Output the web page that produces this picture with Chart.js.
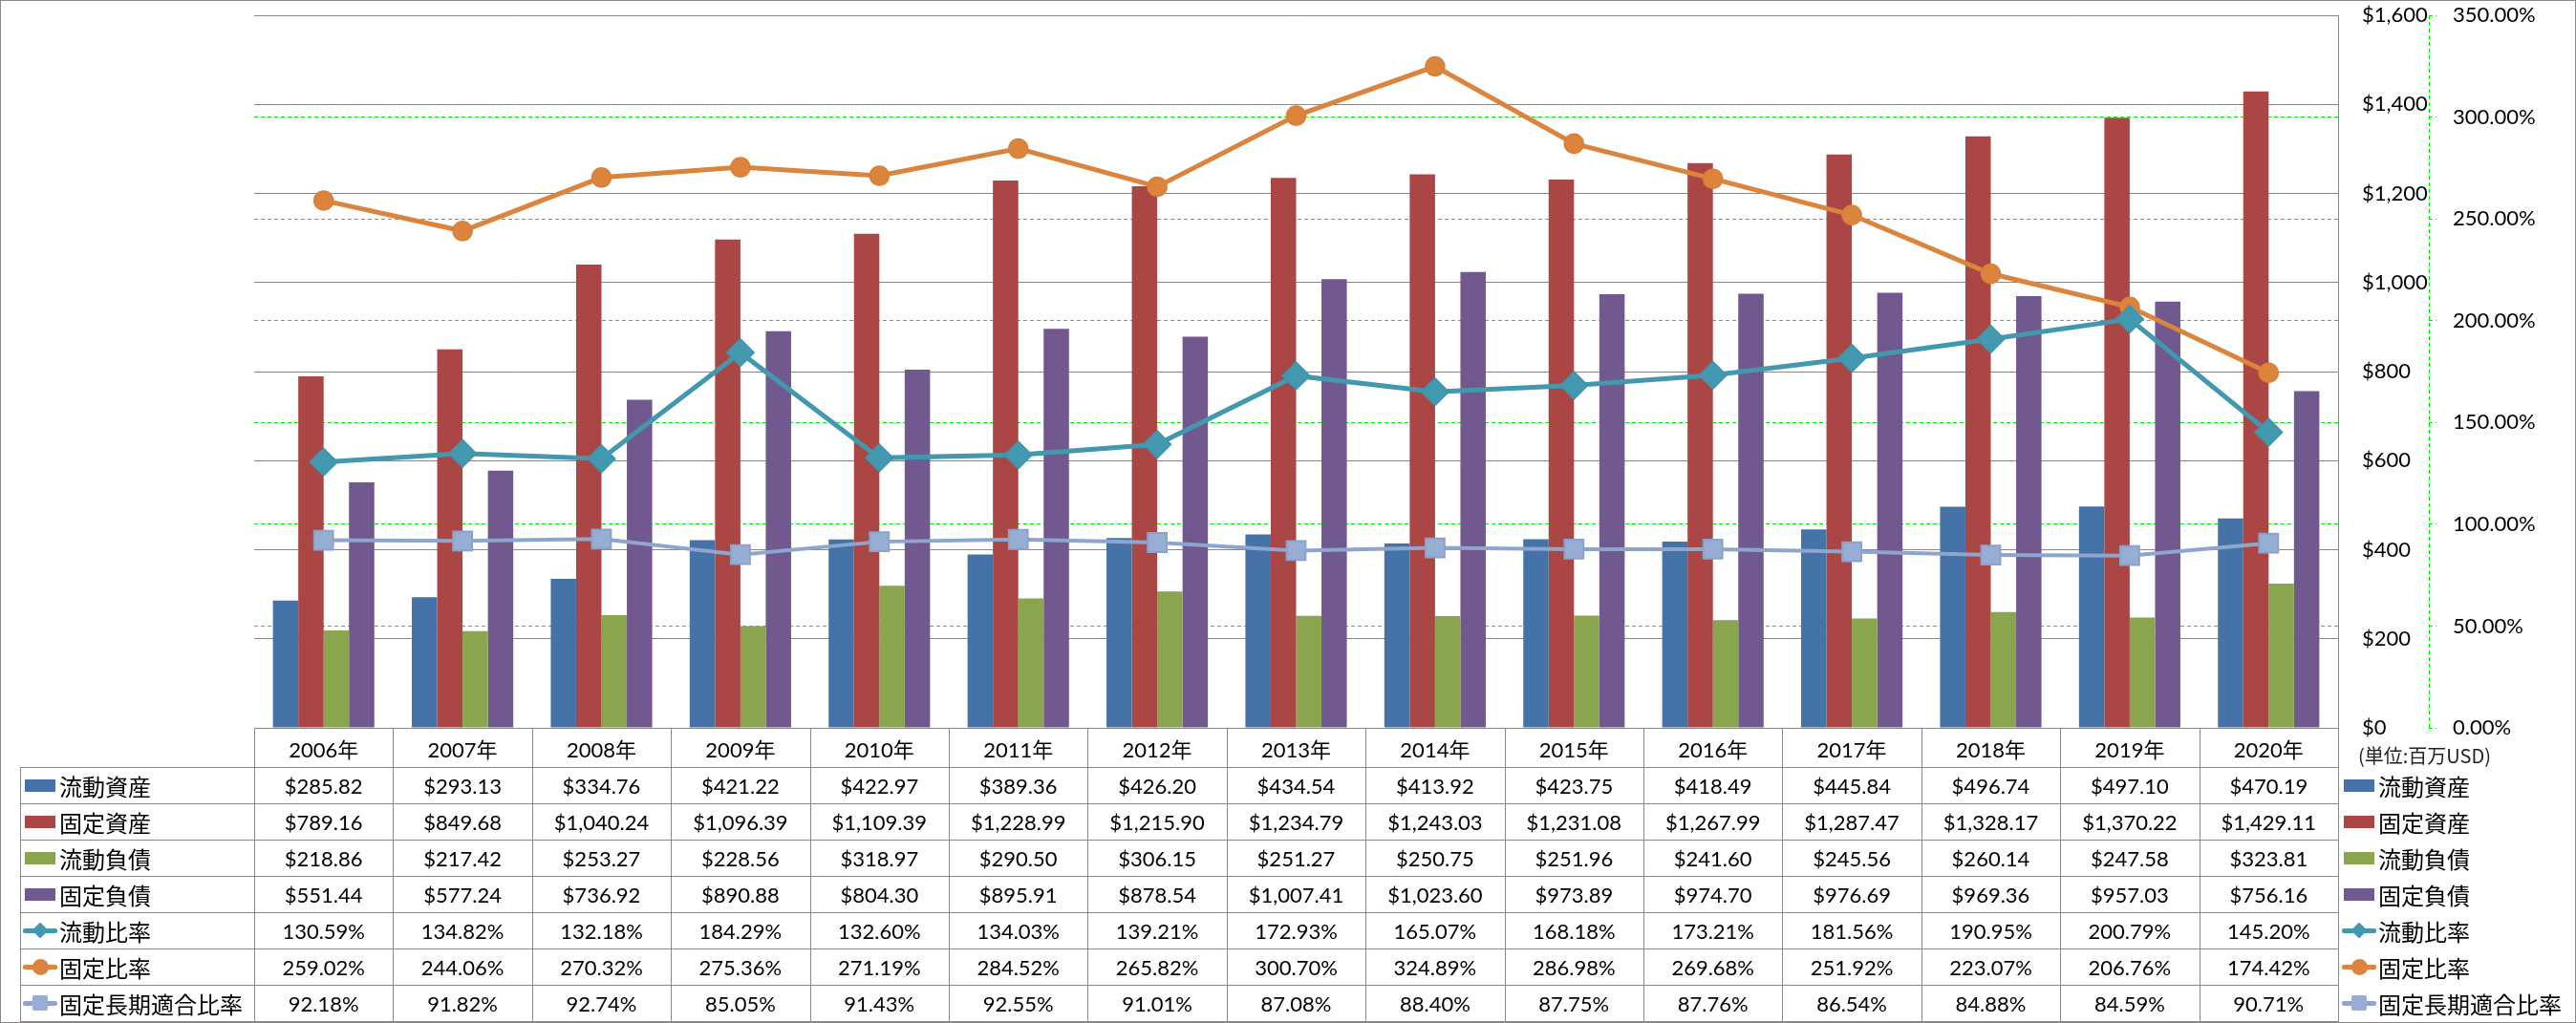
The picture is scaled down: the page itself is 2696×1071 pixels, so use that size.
<!DOCTYPE html>
<html>
<head>
<meta charset="utf-8">
<script src="https://cdn.jsdelivr.net/npm/chart.js@4.4.1/dist/chart.umd.min.js"></script>
<style>
  html, body { margin: 0; padding: 0; background: #fff; }
  #wrap { position: relative; width: 2696px; height: 1071px; overflow: hidden; background: #fff; }
  #c { position: absolute; left: 0; top: 0; }
  .ln { position: absolute; background: #888888; }
  .cell { position: absolute; display: flex; align-items: center; justify-content: center;
          font-family: Lato, 'Noto Sans CJK JP', sans-serif; font-size: 22px; color: #000; white-space: nowrap; }
  .lab { position: absolute; display: flex; align-items: center; white-space: nowrap;
         font-family: 'Noto Sans CJK JP', sans-serif; font-size: 24px; color: #000; }
  .sw { position: absolute; }
  #frame { position: absolute; left: 0; top: 0; width: 2696px; height: 1071px; box-sizing: border-box;
           border: 1px solid #888888; pointer-events: none; }
  #unit { position: absolute; font-family: 'Noto Sans CJK JP', sans-serif; font-size: 20px; color: #222; white-space: nowrap; }
</style>
</head>
<body>
<div id="wrap">
  <canvas id="c" width="2696" height="1071"></canvas>
  <div id="tbl"></div>
  <div id="unit">(単位:百万USD)</div>
  <div id="frame"></div>
</div>
<script>
// ---------------- data ----------------
const categories = ['2006年','2007年','2008年','2009年','2010年','2011年','2012年','2013年','2014年','2015年','2016年','2017年','2018年','2019年','2020年'];
const seriesNames = ['流動資産','固定資産','流動負債','固定負債','流動比率','固定比率','固定長期適合比率'];
const currentAssets  = [285.82, 293.13, 334.76, 421.22, 422.97, 389.36, 426.20, 434.54, 413.92, 423.75, 418.49, 445.84, 496.74, 497.10, 470.19];
const fixedAssets    = [789.16, 849.68, 1040.24, 1096.39, 1109.39, 1228.99, 1215.90, 1234.79, 1243.03, 1231.08, 1267.99, 1287.47, 1328.17, 1370.22, 1429.11];
const currentLiab    = [218.86, 217.42, 253.27, 228.56, 318.97, 290.50, 306.15, 251.27, 250.75, 251.96, 241.60, 245.56, 260.14, 247.58, 323.81];
const fixedLiab      = [551.44, 577.24, 736.92, 890.88, 804.30, 895.91, 878.54, 1007.41, 1023.60, 973.89, 974.70, 976.69, 969.36, 957.03, 756.16];
const currentRatio   = [130.59, 134.82, 132.18, 184.29, 132.60, 134.03, 139.21, 172.93, 165.07, 168.18, 173.21, 181.56, 190.95, 200.79, 145.20];
const fixedRatio     = [259.02, 244.06, 270.32, 275.36, 271.19, 284.52, 265.82, 300.70, 324.89, 286.98, 269.68, 251.92, 223.07, 206.76, 174.42];
const fixedLongRatio = [92.18, 91.82, 92.74, 85.05, 91.43, 92.55, 91.01, 87.08, 88.40, 87.75, 87.76, 86.54, 84.88, 84.59, 90.71];
const usdTicks = [0, 200, 400, 600, 800, 1000, 1200, 1400, 1600];
const pctTicks = [0, 50, 100, 150, 200, 250, 300, 350];
const unitLabel = '(単位:百万USD)';

// ---------------- styles ----------------
const colors = ['#4572A7', '#AA4643', '#89A54E', '#71588F', '#4198AF', '#DB843D', '#93A9CF'];
const tickFont = { family: "Lato, 'Noto Sans CJK JP', sans-serif", size: 22 };

const fmtUsd = v => '$' + v.toLocaleString('en-US', { minimumFractionDigits: 2, maximumFractionDigits: 2 });
const fmtPct = v => v.toFixed(2) + '%';

const y2AxisLine = {
  id: 'y2AxisLine',
  beforeDatasetsDraw(chart) {
    const s = chart.scales.y2, a = chart.chartArea, c = chart.ctx;
    c.save();
    c.strokeStyle = '#00ee00';
    c.lineWidth = 1;
    c.setLineDash([4, 3]);
    const x = Math.round(s.left) + 0.5;
    c.beginPath(); c.moveTo(x, a.top); c.lineTo(x, a.bottom); c.stroke();
    c.restore();
  }
};

const barDs = (label, data, color) => ({
  type: 'bar', label, data, backgroundColor: color, borderWidth: 0,
  yAxisID: 'y', order: 10, categoryPercentage: 0.73, barPercentage: 1.0
});

const chart = new Chart(document.getElementById('c'), {
  data: {
    labels: categories,
    datasets: [
      barDs(seriesNames[0], currentAssets, colors[0]),
      barDs(seriesNames[1], fixedAssets, colors[1]),
      barDs(seriesNames[2], currentLiab, colors[2]),
      barDs(seriesNames[3], fixedLiab, colors[3]),
      { type: 'line', label: seriesNames[4], data: currentRatio, yAxisID: 'y2', order: 1,
        borderColor: colors[4], borderWidth: 5, backgroundColor: colors[4], tension: 0,
        pointStyle: 'rectRot', pointRadius: 14, pointBorderWidth: 2, pointBackgroundColor: '#4399B0', pointBorderColor: '#3F96AD' },
      { type: 'line', label: seriesNames[5], data: fixedRatio, yAxisID: 'y2', order: 2,
        borderColor: colors[5], borderWidth: 5, backgroundColor: colors[5], tension: 0,
        pointStyle: 'circle', pointRadius: 10, pointBorderWidth: 1.5, pointBackgroundColor: '#DC843C', pointBorderColor: '#D98038' },
      { type: 'line', label: seriesNames[6], data: fixedLongRatio, yAxisID: 'y2', order: 3,
        borderColor: '#8EA6CF', borderWidth: 4, backgroundColor: colors[6], tension: 0,
        pointStyle: 'rect', pointRadius: 14, pointBorderWidth: 2, pointBackgroundColor: '#97ADD3', pointBorderColor: '#8AA3CC' }
    ]
  },
  options: {
    responsive: false,
    animation: false,
    devicePixelRatio: 1,
    layout: { padding: { left: 266, top: 15, right: 0, bottom: 309 } },
    plugins: { legend: { display: false }, tooltip: { enabled: false } },
    scales: {
      x: { display: false, offset: true, grid: { display: false } },
      y: {
        position: 'right', min: 0, max: 1600,
        afterBuildTicks: s => { s.ticks = usdTicks.map(v => ({ value: v })); },
        ticks: { padding: 25, font: tickFont, color: '#000', callback: v => '$' + Number(v).toLocaleString('en-US') },
        grid: { color: '#878787', lineWidth: 1, drawTicks: false, z: -1 },
        border: { display: true, color: '#878787', width: 1 },
        afterFit: s => { s.width = 95; s.paddingTop = 0; s.paddingBottom = 0; }
      },
      y2: {
        position: 'right', min: 0, max: 350,
        afterBuildTicks: s => { s.ticks = pctTicks.map(v => ({ value: v })); },
        ticks: { padding: 17, font: tickFont, color: '#000', callback: v => Number(v).toFixed(2) + '%' },
        grid: { color: '#00ee00', lineWidth: 1, drawTicks: true, tickLength: 8, tickColor: '#00ee00', tickBorderDash: [4, 3], z: -2 },
        border: { display: false, dash: [4, 3] },
        afterFit: s => { s.width = 154; s.paddingTop = 0; s.paddingBottom = 0; }
      }
    }
  },
  plugins: [y2AxisLine]
});

// ---------------- data table & legend (HTML) ----------------
const area = chart.chartArea;
const tbl = document.getElementById('tbl');
const n = categories.length;
const colW = (area.right - area.left) / n;
const headTop = Math.round(area.bottom);
const headH = 41;
const rowH = 38;
const labelLeft = 21;
const rows = [currentAssets, fixedAssets, currentLiab, fixedLiab, currentRatio, fixedRatio, fixedLongRatio];
const fmts = [fmtUsd, fmtUsd, fmtUsd, fmtUsd, fmtPct, fmtPct, fmtPct];
const bodyTop = headTop + headH;
const bottom = bodyTop + rowH * rows.length;

function el(cls, css, text) {
  const d = document.createElement('div');
  d.className = cls;
  Object.assign(d.style, css);
  if (text !== undefined) d.textContent = text;
  tbl.appendChild(d);
  return d;
}
// horizontal lines
el('ln', { left: area.left + 'px', top: headTop + 'px', width: (area.right - area.left + 1) + 'px', height: '1px' });
for (let r = 0; r <= rows.length; r++) {
  el('ln', { left: labelLeft + 'px', top: (bodyTop + r * rowH) + 'px', width: (area.right - labelLeft + 1) + 'px', height: '1px' });
}
// vertical lines
el('ln', { left: labelLeft + 'px', top: bodyTop + 'px', width: '1px', height: (bottom - bodyTop + 1) + 'px' });
for (let i = 0; i <= n; i++) {
  el('ln', { left: Math.round(area.left + i * colW) + 'px', top: headTop + 'px', width: '1px', height: (bottom - headTop + 1) + 'px' });
}
// header
for (let i = 0; i < n; i++) {
  el('cell', { left: (area.left + i * colW) + 'px', top: headTop + 'px', width: colW + 'px', height: headH + 'px' }, categories[i]);
}
// body
rows.forEach((vals, r) => {
  vals.forEach((v, i) => {
    el('cell', { left: (area.left + i * colW) + 'px', top: (bodyTop + r * rowH) + 'px', width: colW + 'px', height: rowH + 'px' }, fmts[r](v));
  });
});

// legend keys
function key(x, yMid, r) {
  const c = colors[r];
  if (r < 4) {
    el('sw', { left: x + 'px', top: (yMid - 6) + 'px', width: '32px', height: '13px', background: c });
  } else {
    const lc = r === 6 ? '#8EA6CF' : c;
    el('sw', { left: (x - 2) + 'px', top: (yMid - 2) + 'px', width: '36px', height: '5px', background: lc, borderRadius: '2px' });
    const cx = x + 16;
    if (r === 4) {
      el('sw', { left: (cx - 6) + 'px', top: (yMid - 6) + 'px', width: '12px', height: '12px', background: c, transform: 'rotate(45deg)', borderRadius: '1px' });
    } else if (r === 5) {
      el('sw', { left: (cx - 8) + 'px', top: (yMid - 8) + 'px', width: '17px', height: '17px', background: c, borderRadius: '50%' });
    } else {
      el('sw', { left: (cx - 8) + 'px', top: (yMid - 8) + 'px', width: '16px', height: '16px', background: '#97ADD3', borderRadius: '2px' });
    }
  }
}
seriesNames.forEach((name, r) => {
  const yMid = bodyTop + r * rowH + rowH / 2;
  // left (table row header)
  key(26, yMid, r);
  el('lab', { left: '62px', top: (bodyTop + r * rowH) + 'px', height: rowH + 'px' }, name);
  // right legend
  key(2453, yMid, r);
  el('lab', { left: '2489px', top: (bodyTop + r * rowH) + 'px', height: rowH + 'px' }, name);
});

const unit = document.getElementById('unit');
unit.textContent = unitLabel;
unit.style.left = '2468px';
unit.style.top = (headTop + 14) + 'px';
</script>
</body>
</html>
